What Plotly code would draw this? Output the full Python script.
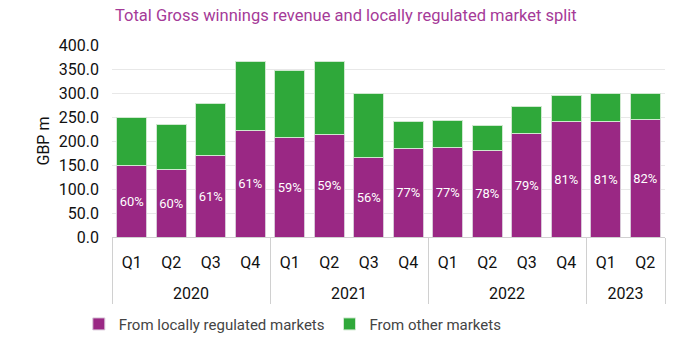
import plotly.graph_objects as go

years = ["2020"]*4 + ["2021"]*4 + ["2022"]*4 + ["2023"]*2
quarters = ["Q1", "Q2", "Q3", "Q4"]*3 + ["Q1", "Q2"]
local = [149, 140, 170, 222, 208, 214, 166, 184, 186, 181, 215, 240, 240, 244]
total = [249, 235, 279, 365, 347, 365, 299, 240, 242, 233, 272, 295, 298, 299]
other = [t - l for t, l in zip(total, local)]
pct_labels = ["60%", "60%", "61%", "61%", "59%", "59%", "56%", "77%", "77%", "78%", "79%", "81%", "81%", "82%"]

PURPLE = "#9A2884"
GREEN = "#2FA83A"
FONT = "Roboto, Arial, sans-serif"

# quarter labels get an empty second line so the year row sits lower, as in the source
quarter_ticks = [q + "<br>&nbsp;" for q in quarters]

fig = go.Figure()
fig.add_trace(go.Bar(
    x=[years, quarter_ticks], y=local, name="From locally regulated markets",
    marker=dict(color=PURPLE, line=dict(color="#d8c8d8", width=1)),
    text=pct_labels, textposition="inside", insidetextanchor="middle",
    textangle=0,
    textfont=dict(color="white", size=14, family=FONT),
    hoverinfo="skip",
))
fig.add_trace(go.Bar(
    x=[years, quarter_ticks], y=other, name="From other markets",
    marker=dict(color=GREEN, line=dict(color="#cfe8cf", width=1)),
    hoverinfo="skip",
))

fig.update_layout(
    barmode="stack",
    bargap=0.24,
    width=700, height=353,
    margin=dict(l=112, r=35, t=45, b=116),
    paper_bgcolor="white", plot_bgcolor="white",
    font=dict(family=FONT, color="#111111", size=16),
    title=dict(
        text="Total Gross winnings revenue and locally regulated market split",
        font=dict(family=FONT, size=16.5, color="#A53A98"),
        x=115/700, xanchor="left", xref="container",
        y=1-15/353, yanchor="middle", yref="container",
    ),
    showlegend=True,
    legend=dict(
        orientation="h", x=-0.06, xanchor="left", y=-0.368, yanchor="top",
        font=dict(family=FONT, size=15, color="#444444"),
        itemwidth=30, traceorder="normal",
    ),
    uniformtext=dict(mode=False),
)
fig.update_yaxes(
    range=[0, 400], dtick=50, tickformat=".1f",
    showgrid=True, gridcolor="#E8E8E8", gridwidth=1,
    zeroline=False, showline=False,
    tickfont=dict(family=FONT, size=16, color="#111111"),
    ticklabelstandoff=12,
    title=dict(text="GBP m", font=dict(family=FONT, size=16, color="#111111"), standoff=5),
    ticks="",
)
fig.update_xaxes(
    type="multicategory",
    showline=True, linecolor="#D0D0D0", linewidth=1,
    showdividers=True, dividercolor="#D0D0D0", dividerwidth=1,
    tickfont=dict(family=FONT, size=16, color="#111111"),
    ticks="", ticklabelstandoff=11,
    showgrid=False,
)

fig.write_html("out.html")
